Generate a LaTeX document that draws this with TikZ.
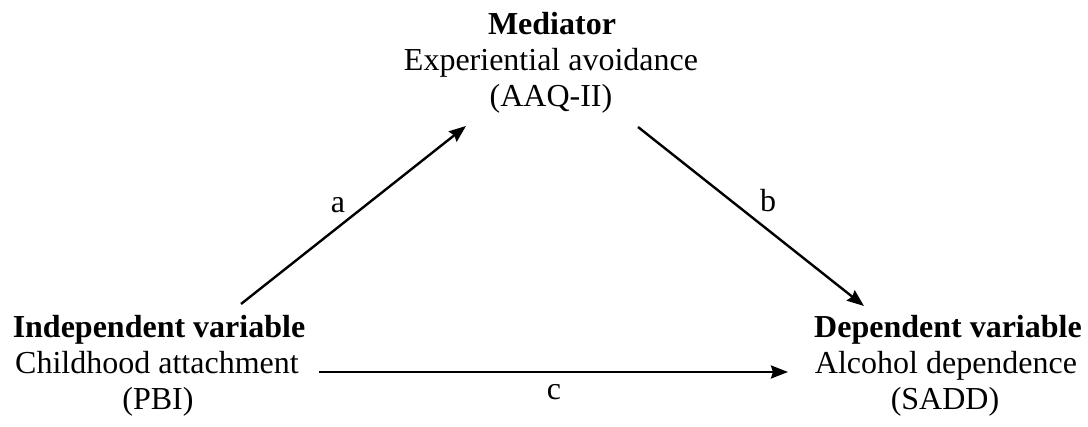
\documentclass[tikz,border=0pt]{standalone}
\usepackage{fontspec}
\setmainfont{Liberation Serif}
\usetikzlibrary{arrows.meta}
\begin{document}
\begin{tikzpicture}[x=1pt,y=-1pt,
  txt/.style={anchor=base,inner sep=0pt,font=\fontsize{32}{36}\selectfont},
  btxt/.style={txt,font=\fontsize{32}{36}\selectfont\bfseries},
  arr/.style={line width=2.4pt,-{Stealth[length=17pt,width=13pt,inset=2pt]}}]
\useasboundingbox (0,0) rectangle (1088,427);
% Mediator
\node[btxt] (med1) at (552,35) {Mediator};
\node[txt]  (med2) at (551,71) {Experiential avoidance};
\node[txt]  (med3) at (551,107) {(AAQ-II)};
% Independent
\node[btxt] (iv1) at (159,338) {Independent variable};
\node[txt]  (iv2) at (157,374) {Childhood attachment};
\node[txt]  (iv3) at (158,410) {(PBI)};
% Dependent
\node[btxt] (dv1) at (948,338) {Dependent variable};
\node[txt]  (dv2) at (946,374) {Alcohol dependence};
\node[txt]  (dv3) at (945,410) {(SADD)};
% connector ends
\coordinate (a1) at (241,304);
\coordinate (a2) at (466,126);
\coordinate (b1) at (638,127);
\coordinate (b2) at (864,306);
\coordinate (c1) at (319,372);
\coordinate (c2) at (788,372);
\draw[arr] (a1) -- (a2);
\draw[arr] (b1) -- (b2);
\draw[arr] (c1) -- (c2);
\node[txt] (la) at (338,213) {a};
\node[txt] (lb) at (768,212) {b};
\node[txt] (lc) at (554,400) {c};
\end{tikzpicture}
\end{document}
